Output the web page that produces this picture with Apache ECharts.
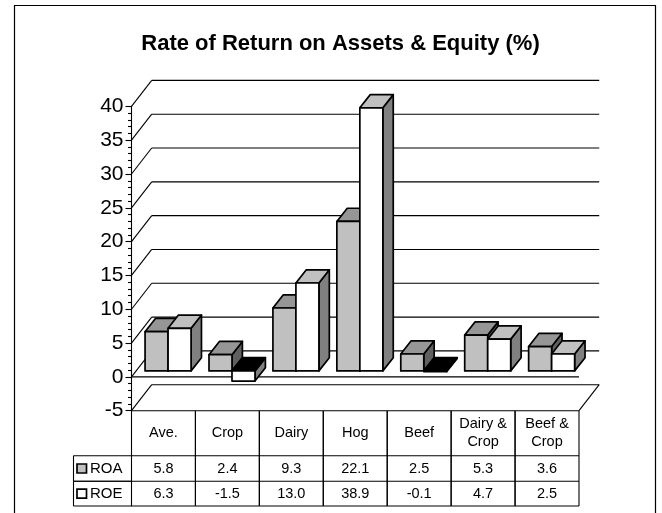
<!DOCTYPE html>
<html>
<head>
<meta charset="utf-8">
<title>Rate of Return on Assets & Equity</title>
<script src="https://cdn.jsdelivr.net/npm/echarts@6/dist/echarts.min.js"></script>
<style>
html, body { margin: 0; padding: 0; background: #fff; }
#main { width: 662px; height: 513px; }
</style>
</head>
<body>
<div id="main"></div>
<script>
const categories = ['Ave.', 'Crop', 'Dairy', 'Hog', 'Beef', 'Dairy &\nCrop', 'Beef &\nCrop'];
const roaValues = [5.8, 2.4, 9.3, 22.1, 2.5, 5.3, 3.6];
const roeValues = [6.3, -1.5, 13.0, 38.9, -0.1, 4.7, 2.5];
const yTicks = [-5, 0, 5, 10, 15, 20, 25, 30, 35, 40];

const fontName = '"Liberation Sans", Arial, sans-serif';
// depth of the fake 3d box, in pixels
const wallX = 20.2, wallY = 26;
const barDepthX = 10.4, barDepthY = 13.2;
const barFrontX = 4.6, barFrontY = 6;
const barWidth = 23;
// table rows
const tableTop = 410.7, rowHeader = 455.7, rowRoa = 481.3, rowRoe = 506;
const tableLeft = 73.5;

function line(x1, y1, x2, y2) {
    return {
        type: 'line',
        shape: { x1: x1, y1: y1, x2: x2, y2: y2 },
        style: { stroke: '#000', lineWidth: 1.1 }
    };
}

function poly(points, fill) {
    return {
        type: 'polygon',
        shape: { points: points },
        style: { fill: fill, stroke: '#000', lineWidth: 1.7, lineJoin: 'round' }
    };
}

function cellText(x, y, text) {
    return {
        type: 'text',
        style: {
            x: x, y: y, text: text, fill: '#000', align: 'center', verticalAlign: 'middle',
            font: '14.5px ' + fontName, lineHeight: 18
        }
    };
}

function renderWall(params, api) {
    let val = api.value(0);
    let c = params.coordSys;
    let y = api.coord([0, val])[1];
    let right = c.x + c.width;
    let kids = [
        line(c.x, y, c.x + wallX, y - wallY),
        line(c.x + wallX, y - wallY, right + wallX, y - wallY)
    ];
    if (val === 0) {
        kids.push(line(c.x, y, right, y));
    }
    if (val === -5) {
        kids.push(line(right, y, right + wallX, y - wallY));
    }
    return { type: 'group', children: kids };
}

function renderBar(slot, front, top, side) {
    return function (params, api) {
        let i = api.value(0);
        let val = api.value(1);
        let zero = api.coord([i, 0]);
        let h = api.coord([i, val])[1] - zero[1];
        let x = zero[0] - barWidth + slot * barWidth + barFrontX;
        let base = zero[1] - barFrontY;
        let y1 = Math.min(base, base + h);
        let y2 = Math.max(base, base + h);
        let dx = barDepthX, dy = barDepthY;
        let w = barWidth;
        return {
            type: 'group',
            children: [
                poly([[x + w, y1], [x + w + dx, y1 - dy], [x + w + dx, y2 - dy], [x + w, y2]], side),
                poly([[x, y1], [x + dx, y1 - dy], [x + w + dx, y1 - dy], [x + w, y1]], val < 0 ? '#000' : top),
                poly([[x, y1], [x + w, y1], [x + w, y2], [x, y2]], front)
            ]
        };
    };
}

function renderTable(params, api) {
    let i = api.value(0);
    let band = api.size([1, 0])[0];
    let cx = api.coord([i, 0])[0];
    let l = cx - band / 2, r = cx + band / 2;
    return {
        type: 'group',
        children: [
            line(l, tableTop, l, rowRoe),
            line(r, tableTop, r, rowRoe),
            line(l, tableTop, r, tableTop),
            line(l, rowHeader, r, rowHeader),
            line(l, rowRoa, r, rowRoa),
            line(l, rowRoe, r, rowRoe),
            cellText(cx, (tableTop + rowHeader) / 2, categories[i]),
            cellText(cx, (rowHeader + rowRoa) / 2, roaValues[i].toFixed(1)),
            cellText(cx, (rowRoa + rowRoe) / 2, roeValues[i].toFixed(1))
        ]
    };
}

function legendCell(top, bottom, name, fill) {
    let mid = (top + bottom) / 2;
    return [
        { type: 'line', shape: { x1: tableLeft, y1: top, x2: 132, y2: top }, style: { stroke: '#000', lineWidth: 1.1 } },
        { type: 'line', shape: { x1: tableLeft, y1: bottom, x2: 132, y2: bottom }, style: { stroke: '#000', lineWidth: 1.1 } },
        { type: 'line', shape: { x1: tableLeft, y1: top, x2: tableLeft, y2: bottom }, style: { stroke: '#000', lineWidth: 1.1 } },
        { type: 'rect', shape: { x: 77, y: mid - 4.5, width: 9.5, height: 9 }, style: { fill: fill, stroke: '#000', lineWidth: 1.7 } },
        { type: 'text', style: { x: 90, y: mid + 0.5, text: name, fill: '#000', font: '15px ' + fontName, verticalAlign: 'middle' } }
    ];
}

let myChart = echarts.init(document.getElementById('main'), null, { renderer: 'canvas' });
let option = {
    animation: false,
    backgroundColor: '#fff',
    title: {
        text: 'Rate of Return on Assets & Equity (%)',
        left: 335.5,
        top: 28,
        textAlign: 'center',
        textStyle: { fontFamily: fontName, fontWeight: 'bold', fontSize: 22, color: '#000' }
    },
    grid: { left: 131.5, top: 106.4, width: 447.5, height: 304.3 },
    xAxis: {
        type: 'category',
        data: categories,
        axisLine: { show: false },
        axisTick: { show: false },
        axisLabel: { show: false }
    },
    yAxis: {
        type: 'value',
        min: -5,
        max: 40,
        interval: 5,
        axisLine: { show: true, onZero: false, lineStyle: { color: '#000', width: 1.1 } },
        axisTick: { show: true, length: 6, lineStyle: { color: '#000', width: 1.1 } },
        minorTick: { show: true, splitNumber: 5, length: 3.5, lineStyle: { color: '#000', width: 1.1 } },
        splitLine: { show: false },
        axisLabel: { fontFamily: fontName, fontSize: 21, color: '#000', margin: 8 }
    },
    graphic: [
        { type: 'rect', shape: { x: 14.5, y: 5.5, width: 641, height: 520 }, style: { fill: 'none', stroke: '#000', lineWidth: 1.2 }, z: 0 }
    ].concat(legendCell(rowHeader, rowRoa, 'ROA', '#c0c0c0'), legendCell(rowRoa, rowRoe, 'ROE', '#fff')),
    series: [
        {
            name: 'walls',
            type: 'custom',
            silent: true,
            renderItem: renderWall,
            data: yTicks.map(v => [v]),
            encode: { y: 0 },
            z: 1
        },
        {
            name: 'table',
            type: 'custom',
            silent: true,
            renderItem: renderTable,
            data: categories.map((c, i) => [i]),
            encode: { x: 0 },
            z: 1
        },
        {
            name: 'ROA',
            type: 'custom',
            silent: true,
            renderItem: renderBar(0, '#c0c0c0', '#969696', '#606060'),
            data: roaValues.map((v, i) => [i, v]),
            encode: { x: 0, y: 1 },
            z: 2
        },
        {
            name: 'ROE',
            type: 'custom',
            silent: true,
            renderItem: renderBar(1, '#fff', '#c0c0c0', '#808080'),
            data: roeValues.map((v, i) => [i, v]),
            encode: { x: 0, y: 1 },
            z: 3
        }
    ]
};
myChart.setOption(option);
window.addEventListener('resize', myChart.resize);
</script>
</body>
</html>
